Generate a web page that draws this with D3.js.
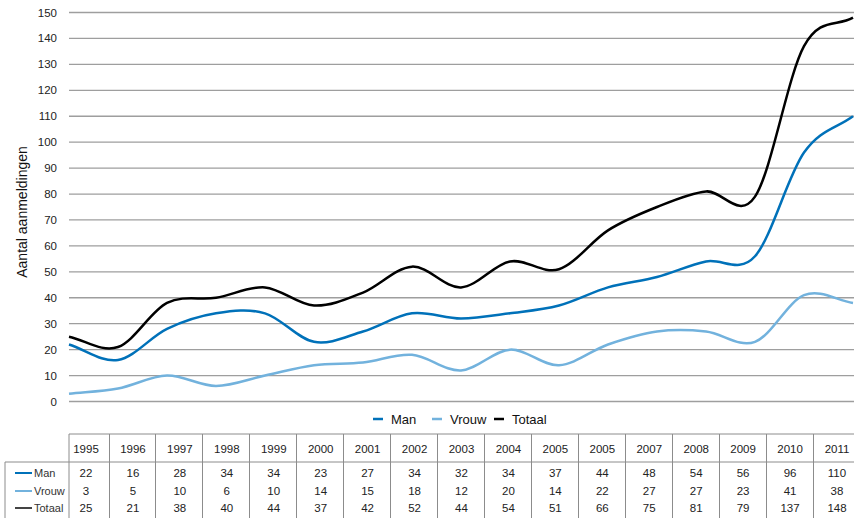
<!DOCTYPE html>
<html>
<head>
<meta charset="utf-8">
<script src="https://cdn.jsdelivr.net/npm/d3@7"></script>
<style>
  html, body { margin: 0; padding: 0; background: #fff; }
  svg { display: block; }
</style>
</head>
<body>
<svg id="chart" width="854" height="518"></svg>
<script>
const years = ["1995","1996","1997","1998","1999","2000","2001","2002","2003","2004","2005","2005","2007","2008","2009","2010","2011"];
const man = [22,16,28,34,34,23,27,34,32,34,37,44,48,54,56,96,110];
const vrouw = [3,5,10,6,10,14,15,18,12,20,14,22,27,27,23,41,38];
const totaal = [25,21,38,40,44,37,42,52,44,54,51,66,75,81,79,137,148];
const yTicks = [0,10,20,30,40,50,60,70,80,90,100,110,120,130,140,150];
const seriesNames = ["Man","Vrouw","Totaal"];
const seriesColors = ["#0071b9","#72b2dd","#000000"];
const yTitle = "Aantal aanmeldingen";

(function () {
const series = [man, vrouw, totaal];
const svg = d3.select("#chart");
const pLeft = 69, pRight = 854, pTop = 12.5, pBottom = 401.5;

const x = d3.scaleLinear().domain([0, years.length - 1]).range([pLeft, 853]);
const y = d3.scaleLinear().domain([0, 150]).range([pBottom, pTop]);

// Spreadsheet-style smoothing: Catmull-Rom interior, open (non-flat) ends
function SmoothCurve(context) { this._context = context; }
SmoothCurve.prototype = {
  areaStart() { this._line = 0; },
  areaEnd() { this._line = NaN; },
  lineStart() { this._pts = []; },
  point(px, py) { this._pts.push([+px, +py]); },
  lineEnd() {
    const p = this._pts, c = this._context, n = p.length;
    if (!n) return;
    c.moveTo(p[0][0], p[0][1]);
    if (n === 1) return;
    const get = i => {
      if (i < 0) return [2 * p[0][0] - p[1][0], 2 * p[0][1] - p[1][1]];
      if (i >= n) return [2 * p[n - 1][0] - p[n - 2][0], 2 * p[n - 1][1] - p[n - 2][1]];
      return p[i];
    };
    for (let i = 0; i < n - 1; i++) {
      const p0 = get(i - 1), p1 = p[i], p2 = p[i + 1], p3 = get(i + 2);
      c.bezierCurveTo(
        p1[0] + (p2[0] - p0[0]) / 6, p1[1] + (p2[1] - p0[1]) / 6,
        p2[0] - (p3[0] - p1[0]) / 6, p2[1] - (p3[1] - p1[1]) / 6,
        p2[0], p2[1]);
    }
  }
};
const smooth = context => new SmoothCurve(context);

// gridlines
svg.append("g").selectAll("line").data(yTicks).join("line")
  .attr("x1", pLeft).attr("x2", pRight)
  .attr("y1", d => y(d)).attr("y2", d => y(d))
  .attr("stroke", "#9e9e9e").attr("stroke-width", 1.3);

// y tick labels
svg.append("g").selectAll("text").data(yTicks).join("text")
  .attr("x", 57).attr("y", d => y(d))
  .attr("dy", "0.35em")
  .attr("text-anchor", "end")
  .attr("font-family", "Liberation Sans, Arial, sans-serif")
  .attr("font-size", 11.5)
  .attr("fill", "#222")
  .text(d => d);

// y title
svg.append("text")
  .attr("transform", "translate(27,212) rotate(-90)")
  .attr("text-anchor", "middle")
  .attr("font-family", "Liberation Sans, Arial, sans-serif")
  .attr("font-size", 14)
  .attr("fill", "#111")
  .text(yTitle);

// lines
const line = d3.line()
  .x((d, i) => x(i))
  .y(d => y(d))
  .curve(smooth);

svg.append("g").selectAll("path").data(series).join("path")
  .attr("d", d => line(d))
  .attr("fill", "none")
  .attr("stroke", (d, i) => seriesColors[i])
  .attr("stroke-width", 2.5)
  .attr("stroke-linejoin", "round");

// legend
const legendX = [373, 432, 494];
const leg = svg.append("g").selectAll("g").data(seriesNames).join("g")
  .attr("transform", (d, i) => `translate(${legendX[i]},419)`);
leg.append("line")
  .attr("x1", 0).attr("x2", 10).attr("y1", 0).attr("y2", 0)
  .attr("stroke", (d, i) => seriesColors[i]).attr("stroke-width", 2.5);
leg.append("text")
  .attr("x", 18).attr("y", 0).attr("dy", "0.35em")
  .attr("font-family", "Liberation Sans, Arial, sans-serif")
  .attr("font-size", 13)
  .attr("fill", "#111")
  .text(d => d);

// data table
const tx = d3.scaleLinear().domain([0, years.length - 1]).range([86, 837]);
const tableTop = 434, headRow = 462;
const rowY = [473, 491, 508];
const tg = svg.append("g");
const gridColor = "#8c8c8c";

tg.append("line").attr("x1", pLeft).attr("x2", pRight).attr("y1", tableTop).attr("y2", tableTop)
  .attr("stroke", gridColor).attr("stroke-width", 1);
tg.append("line").attr("x1", 5).attr("x2", pRight).attr("y1", headRow).attr("y2", headRow)
  .attr("stroke", gridColor).attr("stroke-width", 1);
tg.append("line").attr("x1", 5).attr("x2", 5).attr("y1", headRow).attr("y2", 518)
  .attr("stroke", gridColor).attr("stroke-width", 1);
tg.append("line").attr("x1", pLeft).attr("x2", pLeft).attr("y1", tableTop).attr("y2", 518)
  .attr("stroke", gridColor).attr("stroke-width", 1);
const bounds = d3.range(0, years.length - 1);
tg.selectAll("line.vb").data(bounds).join("line").attr("class", "vb")
  .attr("x1", i => Math.round(tx(i) + 22.5) + 0.5).attr("x2", i => Math.round(tx(i) + 22.5) + 0.5)
  .attr("y1", tableTop).attr("y2", 518)
  .attr("stroke", gridColor).attr("stroke-width", 1);

const numFont = "Liberation Sans Narrow, Arial Narrow, Liberation Sans, sans-serif";
tg.selectAll("text.yr").data(years).join("text").attr("class", "yr")
  .attr("x", (d, i) => tx(i)).attr("y", 449).attr("dy", "0.35em")
  .attr("text-anchor", "middle")
  .attr("font-family", numFont).attr("font-size", 11.5).attr("fill", "#222")
  .text(d => d);

series.forEach((s, r) => {
  tg.selectAll("text.r" + r).data(s).join("text").attr("class", "r" + r)
    .attr("x", (d, i) => tx(i)).attr("y", rowY[r]).attr("dy", "0.35em")
    .attr("text-anchor", "middle")
    .attr("font-family", numFont).attr("font-size", 11.5).attr("fill", "#222")
    .text(d => d);
  tg.append("line")
    .attr("x1", 15).attr("x2", 32).attr("y1", rowY[r]).attr("y2", rowY[r])
    .attr("stroke", r === 2 ? "#444" : seriesColors[r]).attr("stroke-width", 2);
  tg.append("text")
    .attr("x", 34).attr("y", rowY[r]).attr("dy", "0.35em")
    .attr("font-family", "Liberation Sans, Arial, sans-serif").attr("font-size", 11).attr("fill", "#333")
    .text(seriesNames[r]);
});
})();
</script>
</body>
</html>
